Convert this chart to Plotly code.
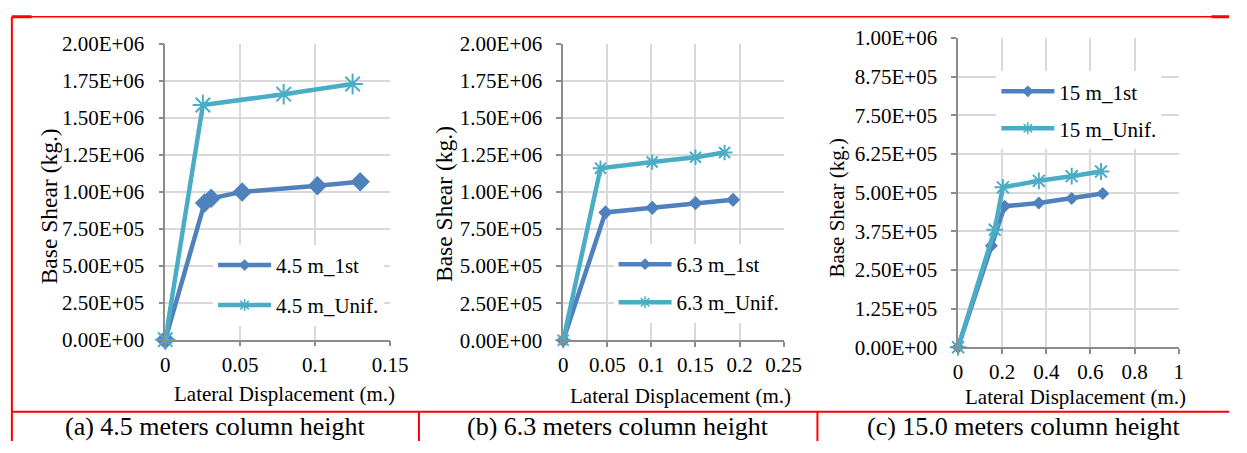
import plotly.graph_objects as go

# ---------------- data ----------------
# (a) 4.5 m column height
a_1st_x = [0, 0.0262, 0.0306, 0.0513, 0.1015, 0.130]
a_1st_y = [0, 923000, 955000, 998000, 1040000, 1066000]
a_unif_x = [0, 0.0251, 0.079, 0.125]
a_unif_y = [0, 1585000, 1658000, 1727000]

# (b) 6.3 m column height
b_1st_x = [0, 0.0479, 0.101, 0.150, 0.1926]
b_1st_y = [0, 862000, 893000, 925000, 947000]
b_unif_x = [0, 0.0423, 0.1009, 0.150, 0.183]
b_unif_y = [0, 1160000, 1202000, 1234000, 1266000]

# (c) 15.0 m column height
c_1st_x = [0, 0.151, 0.211, 0.366, 0.515, 0.656]
c_1st_y = [0, 328000, 456000, 466000, 481000, 497000]
c_unif_x = [0, 0.166, 0.203, 0.366, 0.515, 0.648]
c_unif_y = [0, 380000, 517000, 538000, 553000, 568000]

series_names = [["4.5 m_1st", "4.5 m_Unif."],
                ["6.3 m_1st", "6.3 m_Unif."],
                ["15 m_1st", "15 m_Unif."]]

y_ticks_ab = [0, 250000, 500000, 750000, 1000000, 1250000, 1500000, 1750000, 2000000]
y_text_ab = ["0.00E+00", "2.50E+05", "5.00E+05", "7.50E+05", "1.00E+06",
             "1.25E+06", "1.50E+06", "1.75E+06", "2.00E+06"]
y_ticks_c = [0, 125000, 250000, 375000, 500000, 625000, 750000, 875000, 1000000]
y_text_c = ["0.00E+00", "1.25E+05", "2.50E+05", "3.75E+05", "5.00E+05",
            "6.25E+05", "7.50E+05", "8.75E+05", "1.00E+06"]

x_title = "Lateral Displacement (m.)"
y_title = "Base Shear (kg.)"
captions = ["(a) 4.5 meters column height",
            "(b) 6.3 meters column height",
            "(c) 15.0 meters column height"]

# ---------------- styling ----------------
W, H = 1247, 453
FONT = "Liberation Serif, Times New Roman, serif"
C1 = "#4F81BD"
C2 = "#4BACC6"
GRID = "#D9D9D9"
AXIS = "#8C8C8C"
RED = "#FF0000"


def px(x):
    return x / W


def py(y):
    return 1 - y / H


# plot areas in pixels (left, right, top, bottom)
areas = [(163.3, 392.3, 33.3, 346.0),
         (568.7, 793.3, 33.3, 346.7),
         (971.0, 1195.7, 27.3, 354.0)]

fig = go.Figure()

panels = [
    (a_1st_x, a_1st_y, a_unif_x, a_unif_y, 15, 17),
    (b_1st_x, b_1st_y, b_unif_x, b_unif_y, 11, 13),
    (c_1st_x, c_1st_y, c_unif_x, c_unif_y, 10, 14),
]
legend_keys = ["legend", "legend2", "legend3"]

for i, (x1, y1, x2, y2, dsz, asz) in enumerate(panels):
    xa = "x" if i == 0 else f"x{i+1}"
    ya = "y" if i == 0 else f"y{i+1}"
    fig.add_trace(go.Scatter(
        x=x1, y=y1, mode="lines+markers", name=series_names[i][0],
        xaxis=xa, yaxis=ya, showlegend=False,
        line=dict(color=C1, width=4.5),
        marker=dict(symbol="diamond", size=dsz, color=C1),
        cliponaxis=False,
    ))
    fig.add_trace(go.Scatter(
        x=x2, y=y2, mode="lines+markers", name=series_names[i][1],
        xaxis=xa, yaxis=ya, showlegend=False,
        line=dict(color=C2, width=4.5),
        marker=dict(symbol="asterisk-open", size=asz, color=C2,
                    line=dict(color=C2, width=2)),
        cliponaxis=False,
    ))
    # legend entries (smaller marker, as in the reference legend)
    fig.add_trace(go.Scatter(
        x=[None], y=[None], mode="lines+markers", name=series_names[i][0],
        xaxis=xa, yaxis=ya, legend=legend_keys[i], legendgroup=f"g{i}a",
        line=dict(color=C1, width=4.5),
        marker=dict(symbol="diamond", size=9, color=C1),
    ))
    fig.add_trace(go.Scatter(
        x=[None], y=[None], mode="lines+markers", name=series_names[i][1],
        xaxis=xa, yaxis=ya, legend=legend_keys[i], legendgroup=f"g{i}b",
        line=dict(color=C2, width=4.5),
        marker=dict(symbol="asterisk-open", size=10, color=C2,
                    line=dict(color=C2, width=1.5)),
    ))

x_ranges = [[0, 0.15], [0, 0.25], [0, 1]]
x_dticks = [0.05, 0.05, 0.2]
y_ranges = [[0, 2000000], [0, 2000000], [0, 1000000]]
y_tv = [y_ticks_ab, y_ticks_ab, y_ticks_c]
y_tt = [y_text_ab, y_text_ab, y_text_c]

tick_font = dict(family=FONT, size=21, color="black")
layout = dict(
    width=W, height=H, autosize=False,
    margin=dict(l=0, r=0, t=0, b=0),
    paper_bgcolor="white", plot_bgcolor="white",
    font=dict(family=FONT, size=21, color="black"),
)

for i, (l, r, t, b) in enumerate(areas):
    xk = "xaxis" if i == 0 else f"xaxis{i+1}"
    yk = "yaxis" if i == 0 else f"yaxis{i+1}"
    ya = "y" if i == 0 else f"y{i+1}"
    xa = "x" if i == 0 else f"x{i+1}"
    layout[xk] = dict(
        domain=[px(l), px(r)], anchor=ya, range=x_ranges[i],
        dtick=x_dticks[i], tick0=0, showgrid=True, gridcolor=GRID, gridwidth=1.5,
        zeroline=False, showline=True, linecolor=AXIS, linewidth=1.5,
        ticks="outside", ticklen=5, tickcolor=AXIS, tickwidth=1.5,
        tickfont=tick_font, ticklabelstandoff=0, fixedrange=True,
    )
    layout[yk] = dict(
        domain=[py(b), py(t)], anchor=xa, range=y_ranges[i],
        tickvals=y_tv[i], ticktext=y_tt[i],
        showgrid=True, gridcolor=GRID, gridwidth=1.5,
        zeroline=False, showline=True, linecolor=AXIS, linewidth=1.5,
        ticks="outside", ticklen=5, tickcolor=AXIS, tickwidth=1.5,
        tickfont=tick_font, ticklabelstandoff=10, fixedrange=True,
    )

# legends: (left px, top px, group gap)
leg_pos = [(212, 246, 9.7), (620, 245, 7.7), (1010, 62.5, 6.7)]
for i, (lx, ty, gap) in enumerate(leg_pos):
    layout[legend_keys[i]] = dict(
        x=px(lx), y=py(ty), xanchor="left", yanchor="top",
        bgcolor="white", borderwidth=0, tracegroupgap=gap,
        font=dict(family=FONT, size=21, color="black"),
        itemwidth=53,
    )

fig.update_layout(**layout)

# axis titles
x_title_pos = [(285, 403), (688.7, 405), (1091, 407)]
y_title_pos = [(45, 205, 23.5), (448, 203, 23.5), (848, 207, 21)]
for (xx, yy) in x_title_pos:
    fig.add_annotation(x=px(xx), y=py(yy), xref="paper", yref="paper",
                       text=x_title, showarrow=False,
                       font=dict(family=FONT, size=21, color="black"),
                       xanchor="center", yanchor="middle")
for (xx, yy, fs) in y_title_pos:
    fig.add_annotation(x=px(xx), y=py(yy), xref="paper", yref="paper",
                       text=y_title, showarrow=False, textangle=-90,
                       font=dict(family=FONT, size=fs, color="black"),
                       xanchor="center", yanchor="middle")

# captions
cap_x = [214, 625, 1038]
for cx, txt in zip(cap_x, captions):
    fig.add_annotation(x=px(cx), y=py(438), xref="paper", yref="paper",
                       text=txt, showarrow=False,
                       font=dict(family=FONT, size=26, color="black"),
                       xanchor="center", yanchor="middle")


# table border lines (red)
def hline(x0, x1, y, w=2):
    fig.add_shape(type="line", xref="paper", yref="paper",
                  x0=px(x0), x1=px(x1), y0=py(y), y1=py(y),
                  line=dict(color=RED, width=w))


def vline(x, y0, y1, w=2):
    fig.add_shape(type="line", xref="paper", yref="paper",
                  x0=px(x), x1=px(x), y0=py(y0), y1=py(y1),
                  line=dict(color=RED, width=w))


hline(7, 1247, 5, 1.5)
hline(7, 27, 5, 3)
hline(1229, 1247, 5, 3)
vline(7, 5, 453, 2)
hline(7, 1247, 422, 2)
vline(421.7, 422, 453, 2)
vline(827.7, 422, 453, 2)

fig.write_html("out.html", config={"displayModeBar": False},
               post_script="document.body.style.margin='0';"
                           "document.body.style.overflow='hidden';")
